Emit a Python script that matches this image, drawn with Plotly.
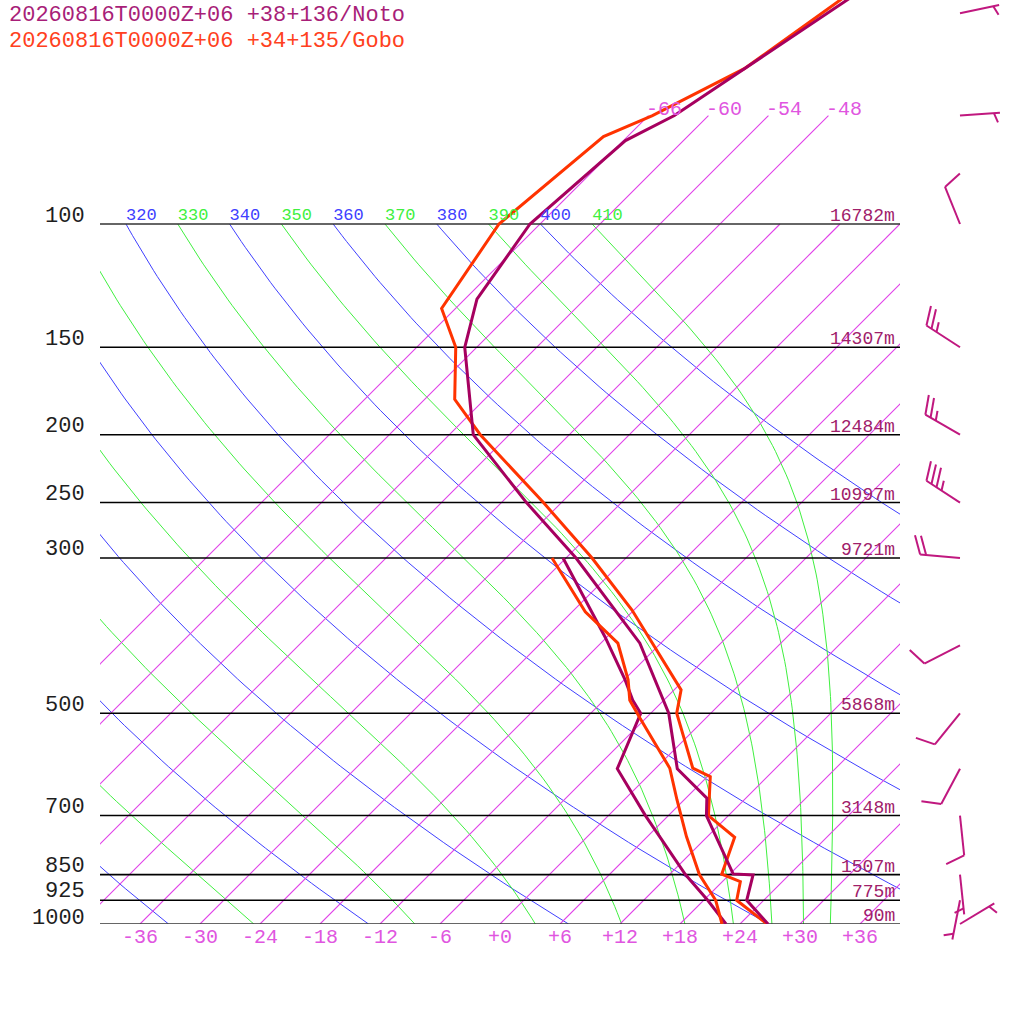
import numpy as np
import plotly.graph_objects as go

# ------------------------------------------------------------------ data
TITLE_NOTO = "20260816T0000Z+06 +38+136/Noto"
TITLE_GOBO = "20260816T0000Z+06 +34+135/Gobo"

# Noto (purple) temperature / dew point profiles  (hPa, degC)
noto_t_p = [1000, 925, 851, 848, 700, 661, 600, 500, 397, 300, 250, 200, 150, 128, 100, 76, 70, 60, 40]
noto_t = [26.8, 22.3, 20.4, 18.3, 9.8, 8.1, 2.2, -4.2, -14.1, -29.0, -39.5, -51.6, -61.2, -64.8, -67.0, -65.8, -63.4, -61.1, -55.0]
noto_td_p = [1000, 925, 850, 700, 600, 500, 479, 448, 389, 333, 300]
noto_td = [22.6, 18.4, 13.6, 3.7, -3.8, -7.0, -9.1, -11.9, -18.2, -25.4, -30.3]

# Gobo (red) temperature / dew point profiles
gobo_t_p = [1000, 925, 870, 849, 752, 700, 616, 599, 500, 463, 356, 300, 250, 200, 178, 150, 132, 100, 75, 70, 60, 40]
gobo_t = [26.7, 21.3, 19.8, 17.2, 14.8, 10.0, 6.3, 3.7, -3.4, -5.3, -18.2, -27.4, -37.8, -50.9, -57.0, -62.1, -67.4, -70.1, -68.4, -65.6, -61.1, -56.2]
gobo_td_p = [1000, 925, 850, 750, 665, 599, 508, 479, 448, 397, 358, 300]
gobo_td = [22.2, 19.2, 15.0, 9.9, 5.3, 1.4, -6.6, -9.4, -11.6, -16.3, -22.7, -31.4]

# Noto winds (direction deg, speed kt)
wind_p = [1000, 925, 850, 700, 600, 500, 400, 300, 250, 200, 150, 100, 70, 50]
wind_dir = [59, 191, 174, 174, 208, 219, 243, 275, 303, 300, 303, 338, 86, 78]
wind_spd = [5, 5, 5, 10, 10, 10, 10, 20, 35, 25, 25, 10, 5, 5]

# standard levels with heights
level_p = [1000, 925, 850, 700, 500, 300, 250, 200, 150, 100]
level_h = ["90m", "775m", "1507m", "3148m", "5868m", "9721m", "10997m", "12484m", "14307m", "16782m"]

# background line sets
iso_T = list(range(-66, 37, 6))
iso_ext = [-66, -60, -54, -48]
bottom_T = list(range(-36, 37, 6))
dry_theta = list(range(240, 401, 20))
moist_theta = list(range(250, 411, 20))
theta_labels = list(range(320, 411, 10))

# ------------------------------------------------------------------ geometry
W = H = 1024
PX_L, PX_R, PX_BOT = 100, 900, 924
PX_DEC = 700.0      # px per decade of pressure
PX_DEG = 10.0       # px per degC
SK = PX_DEC / PX_DEG
LOG_TOP = 3 - PX_BOT / PX_DEC

FONT = "Liberation Mono"
C_NOTO = "#a6005f"
C_GOBO = "#ff3300"
C_ISO = "#e040e8"
C_ISO_TXT = "#e055e0"
C_DRY = "#4040ff"
C_MOIST = "#40f040"
C_BARB = "#c0187f"
C_HGT = "#a0206a"

# pressure-label vertical offsets above the level line (px)
label_dy = {1000: 6, 925: 9, 850: 8}


def u_of(p):
    return np.log10(1000.0 / np.asarray(p, float))


def sx(T, p):
    return np.asarray(T, float) + SK * u_of(p)


def ypx(p):
    return PX_BOT - PX_DEC * u_of(p)


def xpx(T, p):
    return 500 + PX_DEG * sx(T, p)


fig = go.Figure()


def add_line(x, y, color, width, xa="x", ya="y"):
    fig.add_trace(go.Scatter(x=x, y=y, mode="lines", xaxis=xa, yaxis=ya,
                             line=dict(color=color, width=width),
                             hoverinfo="skip", showlegend=False))


# dry adiabats
pp = np.logspace(3, 2, 121)
for th in dry_theta:
    Tdry = th * (pp / 1000.0) ** 0.2857 - 273.15
    add_line(sx(Tdry, pp).tolist(), pp.tolist(), C_DRY, 1)


# moist adiabats (pseudo-adiabatic), integrated downward from 100 hPa
def moist_profile(T0, p_arr):
    Rd, Cp, Lv, eps = 287.04, 1005.7, 2.501e6, 0.622

    def f(p, T):
        Tc = T - 273.15
        es = 6.112 * np.exp(17.67 * Tc / (Tc + 243.5))
        rs = eps * es / (p - es)
        return (Rd * T + Lv * rs) / (Cp + Lv * Lv * rs * eps / (Rd * T * T)) / p

    out = [T0]
    T = T0
    for i in range(1, len(p_arr)):
        p0, p1 = p_arr[i - 1], p_arr[i]
        n = 8
        h = (p1 - p0) / n
        p = p0
        for _ in range(n):
            k1 = f(p, T)
            k2 = f(p + h / 2, T + h * k1 / 2)
            k3 = f(p + h / 2, T + h * k2 / 2)
            k4 = f(p + h, T + h * k3)
            T = T + h * (k1 + 2 * k2 + 2 * k3 + k4) / 6
            p += h
        out.append(T)
    return np.array(out)


pm = np.logspace(2, 3, 121)
for th in moist_theta:
    T0 = th * (0.1) ** 0.2857
    TK = moist_profile(T0, pm)
    add_line(sx(TK - 273.15, pm).tolist(), pm.tolist(), C_MOIST, 1)

# isotherms, sampled along pressure
for T_iso in iso_T:
    ptop = 70.0 if T_iso in iso_ext else 100.0
    pi = np.logspace(3, np.log10(ptop), 40)
    add_line(sx(np.full(pi.size, float(T_iso)), pi).tolist(), pi.tolist(), C_ISO, 1.1)

# pressure level lines
for p in level_p:
    col = "#333333" if p in (1000, 100) else "#000000"
    add_line([-40, 40], [p, p], col, 1.6)

# profiles
add_line(sx(noto_td, noto_td_p).tolist(), noto_td_p, C_NOTO, 3)
add_line(sx(gobo_td, gobo_td_p).tolist(), gobo_td_p, C_GOBO, 3)
add_line(sx(gobo_t, gobo_t_p).tolist(), gobo_t_p, C_GOBO, 3)
add_line(sx(noto_t, noto_t_p).tolist(), noto_t_p, C_NOTO, 3)

# theta labels on the 100 hPa line
for th in theta_labels:
    Tk = th * (0.1) ** 0.2857 - 273.15
    col = C_DRY if th % 20 == 0 else C_MOIST
    fig.add_trace(go.Scatter(x=[float(sx(Tk, 100))], y=[100], mode="text", text=[str(th)],
                             textposition="top right", cliponaxis=True,
                             textfont=dict(family=FONT, size=17, color=col),
                             hoverinfo="skip", showlegend=False))


# wind barbs (right panel, pixel-based x axis, extended log-p y axis)
def p_from_px(y):
    return 1000.0 / 10 ** ((PX_BOT - y) / PX_DEC)


bx_list, by_list = [], []
for p, d, s in zip(wind_p, wind_dir, wind_spd):
    bx, by = 960.0, float(ypx(p))
    th = np.radians(d)
    ux, uy = np.sin(th), -np.cos(th)
    tx, ty = bx + 40 * ux, by + 40 * uy
    a = np.radians(d + 70)
    kx, ky = np.sin(a), -np.cos(a)
    segs = [((bx, by), (tx, ty))]
    nfull = int(s // 10)
    half = (s % 10) >= 5
    pos = 6.0 if nfull == 0 else 0.0
    for _ in range(nfull):
        ox, oy = tx - pos * ux, ty - pos * uy
        segs.append(((ox, oy), (ox + 20 * kx, oy + 20 * ky)))
        pos += 6
    if half:
        ox, oy = tx - pos * ux, ty - pos * uy
        segs.append(((ox, oy), (ox + 10 * kx, oy + 10 * ky)))
    for (x0, y0), (x1, y1) in segs:
        bx_list += [float(x0), float(x1), None]
        by_list += [float(p_from_px(y0)), float(p_from_px(y1)), None]

fig.add_trace(go.Scatter(x=bx_list, y=by_list, mode="lines", xaxis="x2", yaxis="y2",
                         line=dict(color=C_BARB, width=2), hoverinfo="skip", showlegend=False))

# ------------------------------------------------------------------ annotations
ann = []


def px2paper(x, y):
    return x / W, 1 - y / H


for txt, col, yy in [(TITLE_NOTO, "#a81e78", 15), (TITLE_GOBO, "#ff4020", 41)]:
    xp, yp = px2paper(7, yy)
    ann.append(dict(text=txt, x=xp, y=yp, xref="paper", yref="paper", xanchor="left",
                    yanchor="middle", showarrow=False, font=dict(family=FONT, size=22, color=col)))

for p, h in zip(level_p, level_h):
    y = float(ypx(p))
    xp, yp = px2paper(87, y - label_dy.get(p, 8))
    ann.append(dict(text=str(p), x=xp, y=yp, xref="paper", yref="paper", xanchor="right",
                    yanchor="middle", showarrow=False, font=dict(family=FONT, size=22, color="#1e1e1e")))
    xp, yp = px2paper(897, y - 8)
    ann.append(dict(text=h, x=xp, y=yp, xref="paper", yref="paper", xanchor="right",
                    yanchor="middle", showarrow=False, font=dict(family=FONT, size=18, color=C_HGT)))

for T in bottom_T:
    xp, yp = px2paper(float(xpx(T, 1000)), 937)
    ann.append(dict(text=("%+d" % T), x=xp, y=yp, xref="paper", yref="paper", xanchor="center",
                    yanchor="middle", showarrow=False, font=dict(family=FONT, size=20, color=C_ISO_TXT)))

for T in iso_ext:
    xp, yp = px2paper(float(xpx(T, 70)) - 4, float(ypx(70)) - 6)
    ann.append(dict(text=("%+d" % T), x=xp, y=yp, xref="paper", yref="paper", xanchor="left",
                    yanchor="middle", showarrow=False, font=dict(family=FONT, size=20, color=C_ISO_TXT)))

fig.update_layout(
    width=W, height=H, margin=dict(l=0, r=0, t=0, b=0),
    paper_bgcolor="white", plot_bgcolor="white", showlegend=False,
    annotations=ann,
    xaxis=dict(domain=[PX_L / W, PX_R / W], range=[-40, 40], visible=False, anchor="y"),
    yaxis=dict(domain=[(H - PX_BOT) / H, 1], type="log", range=[3, LOG_TOP], visible=False, anchor="x"),
    xaxis2=dict(domain=[PX_R / W, 1], range=[PX_R, W], visible=False, anchor="y2"),
    yaxis2=dict(domain=[0, 1], type="log", range=[3 + (H - PX_BOT) / PX_DEC, LOG_TOP], visible=False, anchor="x2"),
)

fig.write_html("out.html", config={"displayModeBar": False},
               post_script="document.body.style.margin='0px';document.body.style.padding='0px';")
